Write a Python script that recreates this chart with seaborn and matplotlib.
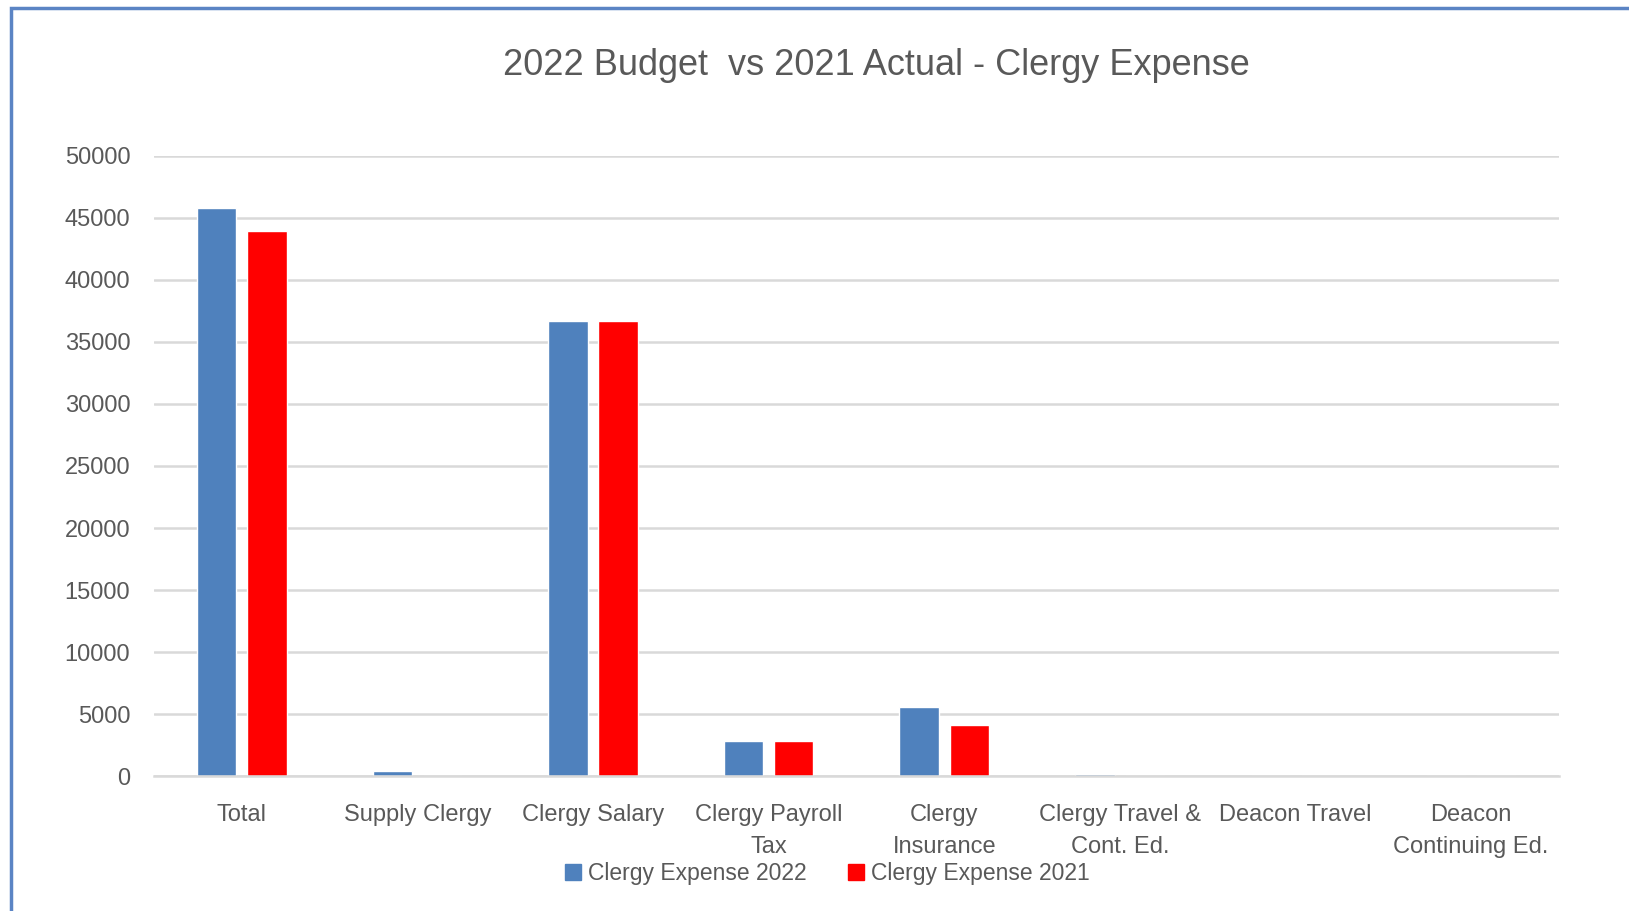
import matplotlib.pyplot as plt
import matplotlib.patches as mpatches
import pandas as pd
import seaborn as sns

categories = ["Total", "Supply Clergy", "Clergy Salary", "Clergy Payroll\nTax",
              "Clergy\nInsurance", "Clergy Travel &\nCont. Ed.", "Deacon Travel",
              "Deacon\nContinuing Ed."]
expense_2022 = [45800, 400, 36700, 2800, 5600, 200, 0, 0]
expense_2021 = [43900, 0, 36700, 2800, 4150, 0, 0, 0]
series = ["Clergy Expense 2022", "Clergy Expense 2021"]
colors = ["#4F81BD", "#FF0000"]

df = pd.DataFrame({
    "category": categories * 2,
    "value": expense_2022 + expense_2021,
    "series": [series[0]] * len(categories) + [series[1]] * len(categories),
})

sns.set_theme(style="white")
plt.rcParams["font.family"] = ["Liberation Sans", "DejaVu Sans"]
grey = "#595959"

fig = plt.figure(figsize=(16.29, 9.11), dpi=100)
ax = fig.add_axes([0.0945, 0.148, 0.8625, 0.681])

sns.barplot(data=df, x="category", y="value", hue="series", palette=colors,
            width=0.57, gap=0.21, ax=ax, legend=False, saturation=1)

ax.set_ylim(0, 50000)
ax.set_yticks(range(0, 50001, 5000))
ax.set_xlim(-0.5, len(categories) - 0.5)
ax.yaxis.grid(True, color="#D9D9D9", linewidth=1.8)
ax.set_axisbelow(True)
for s in ["left", "right", "top"]:
    ax.spines[s].set_visible(False)
ax.spines["bottom"].set_color("#D9D9D9")
ax.spines["bottom"].set_linewidth(1.8)
ax.tick_params(axis="both", length=0, labelsize=17, labelcolor=grey)
ax.tick_params(axis="y", pad=17)
ax.tick_params(axis="x", pad=20)
for lbl in ax.get_xticklabels():
    lbl.set_linespacing(1.6)
ax.set_xlabel("")
ax.set_ylabel("")

fig.text(0.538, 0.928, "2022 Budget  vs 2021 Actual - Clergy Expense",
         ha="center", va="center", fontsize=26, color=grey)

handles = [mpatches.Patch(color=c, label=s) for c, s in zip(colors, series)]
fig.legend(handles=handles, loc="center", bbox_to_anchor=(0.508, 0.041), ncol=2,
           frameon=False, fontsize=16.5, labelcolor=grey, handlelength=0.7,
           handleheight=0.7, handletextpad=0.3, columnspacing=1.8)

border = mpatches.Rectangle((11 / 1629, -0.1), 1.2, 0.1 + (911 - 8) / 911,
                            transform=fig.transFigure, fill=False,
                            edgecolor="#5B84C4", linewidth=2.5)
fig.patches.append(border)

fig.savefig("out.png", dpi=100)
